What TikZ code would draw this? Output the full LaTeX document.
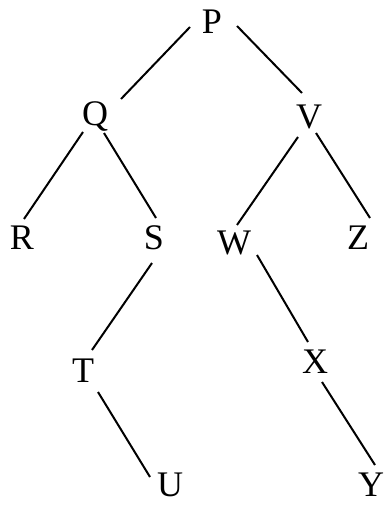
\documentclass[tikz,border=0pt]{standalone}
\usepackage{fontspec}
\setmainfont{Liberation Serif}
\usetikzlibrary{calc}
\begin{document}
\begin{tikzpicture}[x=1pt,y=-1pt,
  lbl/.style={inner sep=0pt,font=\fontsize{36}{42}\selectfont},
  edge/.style={line width=2pt}]
\useasboundingbox (0,0) rectangle (386,505);
\node[lbl] (P) at (212,22) {P};
\node[lbl] (Q) at (95,117) {Q};
\node[lbl] (V) at (309,117) {V};
\node[lbl] (R) at (22,238) {R};
\node[lbl] (S) at (154,238) {S};
\node[lbl] (W) at (234,243) {W};
\node[lbl] (Z) at (358,238) {Z};
\node[lbl] (T) at (83,371) {T};
\node[lbl] (X) at (315,362) {X};
\node[lbl] (U) at (170,485) {U};
\node[lbl] (Y) at (371,485) {Y};
\draw[edge] ($(P)+(-22,5)$) -- ($(Q)+(26,-18)$);
\draw[edge] ($(P)+(25,4)$) -- ($(V)+(-7,-24)$);
\draw[edge] ($(Q)+(-12,15)$) -- ($(R)+(2,-19)$);
\draw[edge] ($(Q)+(9,16)$) -- ($(S)+(2,-20)$);
\draw[edge] ($(V)+(-11,20)$) -- ($(W)+(3,-18)$);
\draw[edge] ($(V)+(7,16)$) -- ($(Z)+(12,-20)$);
\draw[edge] ($(S)+(-2,25)$) -- ($(T)+(9,-21)$);
\draw[edge] ($(W)+(23,12)$) -- ($(X)+(-7,-20)$);
\draw[edge] ($(T)+(15,21)$) -- ($(U)+(-20,-8)$);
\draw[edge] ($(X)+(7,20)$) -- ($(Y)+(4,-20)$);
\end{tikzpicture}
\end{document}
